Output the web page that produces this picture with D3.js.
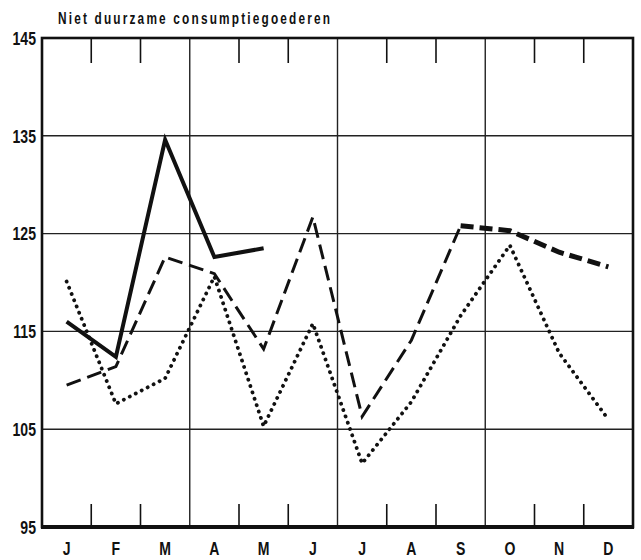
<!DOCTYPE html>
<html>
<head>
<meta charset="utf-8">
<script src="https://cdn.jsdelivr.net/npm/d3@7"></script>
<style>
  body { margin: 0; background: #fff; }
  svg { display: block; }
  text { font-family: "Liberation Sans", Arial, sans-serif; font-weight: bold; fill: #111; }
</style>
</head>
<body>
<svg id="chart" width="641" height="560"></svg>
<script>
// values
const months = ['J', 'F', 'M', 'A', 'M', 'J', 'J', 'A', 'S', 'O', 'N', 'D'];
const yTicks = [95, 105, 115, 125, 135, 145];
const solidVals = [116.0, 112.4, 134.6, 122.6, 123.5];                 // jan - mei
const dashedVals = [109.5, 111.4, 122.6, 120.9, 113.2, 126.7, 106.3, 114.1, 125.8, 125.3, 123.1, 121.6];
const dottedVals = [120.1, 107.6, 110.2, 120.6, 105.3, 115.8, 101.5, 107.8, 116.6, 123.8, 112.8, 106.0];
const heavyFrom = 8; // dashed line gets heavier from september on
const title = 'Niet duurzame consumptiegoederen';

const svg = d3.select('#chart');
const plotLeft = 42, plotRight = 633, plotTop = 38, plotBottom = 527;
const squeeze = 0.74; // the original lettering is a narrow grotesque

const x = d3.scaleBand().domain(d3.range(12)).range([plotLeft, plotRight]);
const xEdge = d3.scaleLinear().domain([0, 12]).range([plotLeft, plotRight]);
const y = d3.scaleLinear().domain([95, 145]).range([plotBottom, plotTop]);

// horizontal grid
svg.append('g')
    .selectAll('line')
    .data(yTicks.filter(d => d > 95 && d < 145))
    .enter()
    .append('line')
    .attr('x1', plotLeft).attr('x2', plotRight)
    .attr('y1', d => y(d)).attr('y2', d => y(d))
    .style('stroke', '#222')
    .style('stroke-width', 1.4);

// quarter lines
svg.append('g')
    .selectAll('line')
    .data([3, 6, 9])
    .enter()
    .append('line')
    .attr('x1', d => xEdge(d)).attr('x2', d => xEdge(d))
    .attr('y1', plotTop).attr('y2', plotBottom)
    .style('stroke', '#222')
    .style('stroke-width', 1.4);

// month ticks on top and bottom
const tickIdx = d3.range(1, 12).filter(i => i % 3 !== 0);
svg.append('g')
    .selectAll('line')
    .data(tickIdx)
    .enter()
    .append('line')
    .attr('x1', d => xEdge(d)).attr('x2', d => xEdge(d))
    .attr('y1', plotTop).attr('y2', plotTop + 25)
    .style('stroke', '#111')
    .style('stroke-width', 1.6);
svg.append('g')
    .selectAll('line')
    .data(tickIdx)
    .enter()
    .append('line')
    .attr('x1', d => xEdge(d)).attr('x2', d => xEdge(d))
    .attr('y1', plotBottom).attr('y2', plotBottom - 23)
    .style('stroke', '#111')
    .style('stroke-width', 1.6);

// frame
svg.append('rect')
    .attr('x', plotLeft).attr('y', plotTop)
    .attr('width', plotRight - plotLeft).attr('height', plotBottom - plotTop)
    .style('fill', 'none')
    .style('stroke', '#111')
    .style('stroke-width', 2.6);
svg.append('line')
    .attr('x1', plotLeft - 1).attr('x2', plotRight + 1)
    .attr('y1', plotBottom).attr('y2', plotBottom)
    .style('stroke', '#111')
    .style('stroke-width', 4);

// axis labels
svg.append('g')
    .selectAll('text')
    .data(yTicks)
    .enter()
    .append('text')
    .attr('transform', d => `translate(36,${y(d)}) scale(${squeeze},1)`)
    .attr('dy', '0.36em')
    .attr('text-anchor', 'end')
    .style('font-size', '19px')
    .text(d => d);

svg.append('g')
    .selectAll('text')
    .data(months)
    .enter()
    .append('text')
    .attr('transform', (d, i) => `translate(${x(i) + x.bandwidth() / 2},555) scale(${squeeze},1)`)
    .attr('text-anchor', 'middle')
    .style('font-size', '19px')
    .text(d => d);

svg.append('text')
    .attr('transform', `translate(58,24) scale(${squeeze},1)`)
    .attr('textLength', 272 / squeeze)
    .attr('lengthAdjust', 'spacing')
    .style('font-size', '16px')
    .text(title);

// series
const line = d3.line()
    .x(d => x(d.i) + x.bandwidth() / 2)
    .y(d => y(d.v));

const toPts = (vals, from = 0) => vals.map((v, i) => ({ i: i + from, v }));

svg.append('path')
    .datum(toPts(dottedVals))
    .attr('d', line)
    .style('fill', 'none')
    .style('stroke', '#111')
    .style('stroke-width', 3.8)
    .style('stroke-linecap', 'round')
    .style('stroke-dasharray', '0.1 6.6');

svg.append('path')
    .datum(toPts(dashedVals.slice(0, heavyFrom + 1)))
    .attr('d', line)
    .style('fill', 'none')
    .style('stroke', '#111')
    .style('stroke-width', 3)
    .style('stroke-linejoin', 'miter')
    .style('stroke-dasharray', '15 7');

svg.append('path')
    .datum(toPts(dashedVals.slice(heavyFrom), heavyFrom))
    .attr('d', line)
    .style('fill', 'none')
    .style('stroke', '#111')
    .style('stroke-width', 5)
    .style('stroke-dasharray', '13 6');

svg.append('path')
    .datum(toPts(solidVals))
    .attr('d', line)
    .style('fill', 'none')
    .style('stroke', '#111')
    .style('stroke-width', 4)
    .style('stroke-linejoin', 'miter');
</script>
</body>
</html>
